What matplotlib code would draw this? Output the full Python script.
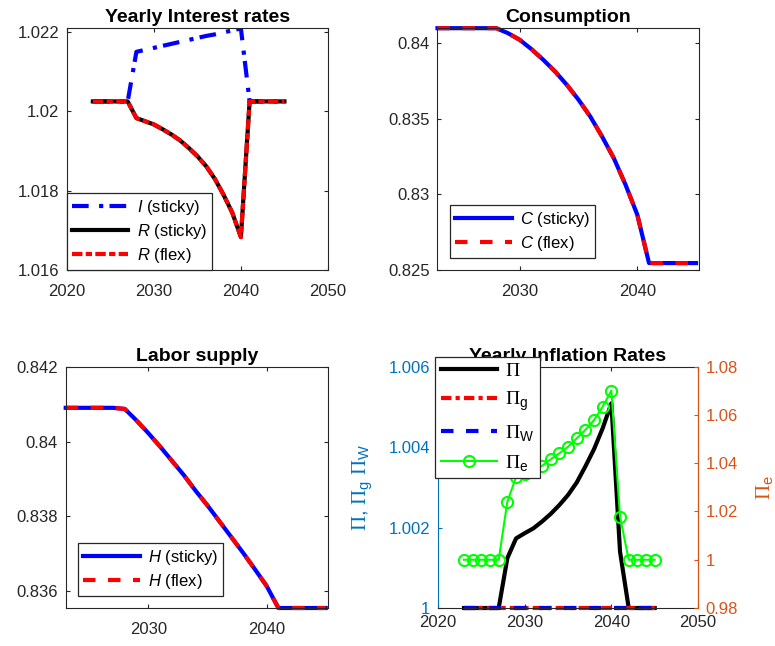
import matplotlib
matplotlib.use('Agg')
import matplotlib.pyplot as plt
from matplotlib.ticker import FuncFormatter

plt.rcParams['font.family'] = ['Liberation Sans', 'DejaVu Sans']
plt.rcParams['mathtext.fontset'] = 'custom'
plt.rcParams['mathtext.rm'] = 'Liberation Serif'
plt.rcParams['mathtext.sf'] = 'Liberation Sans'
plt.rcParams['mathtext.it'] = 'Liberation Sans:italic'

#  Simulated paths, one value per year
years = list(range(2023, 2046))

i_sticky = [1.02025, 1.02025, 1.02025, 1.02025, 1.02025,
            1.02150, 1.02155, 1.02160, 1.02165, 1.02170, 1.02175, 1.02180,
            1.02185, 1.02190, 1.02194, 1.02199, 1.02204, 1.02209,
            1.02025, 1.02025, 1.02025, 1.02025, 1.02025]
r_sticky = [1.02025, 1.02025, 1.02025, 1.02025, 1.02025,
            1.01983, 1.01975, 1.01967, 1.01955, 1.01942, 1.01927, 1.01908,
            1.01887, 1.01862, 1.01830, 1.01790, 1.01745, 1.01683,
            1.02025, 1.02025, 1.02025, 1.02025, 1.02025]
r_flex = list(r_sticky)

c_sticky = [0.84099, 0.84099, 0.84099, 0.84099, 0.84099, 0.84099,
            0.84066, 0.84022, 0.83960, 0.83890, 0.83813, 0.83725,
            0.83626, 0.83515, 0.83383, 0.83240, 0.83064, 0.82866,
            0.82546, 0.82546, 0.82546, 0.82546, 0.82546]
c_flex = list(c_sticky)

h_sticky = [0.84090, 0.84090, 0.84090, 0.84090, 0.84090, 0.84087,
            0.84056, 0.84022, 0.83986, 0.83948, 0.83910, 0.83868,
            0.83829, 0.83787, 0.83745, 0.83703, 0.83659, 0.83614,
            0.83555, 0.83555, 0.83555, 0.83555, 0.83555]
h_flex = list(h_sticky)

pi_p = [1.0, 1.0, 1.0, 1.0, 1.0,
        1.00124, 1.00173, 1.00186, 1.00198, 1.00215, 1.00234, 1.00256,
        1.00281, 1.00312, 1.00352, 1.00395, 1.00447, 1.00509,
        1.00140, 1.0, 1.0, 1.0, 1.0]
pi_g = [1.0] * len(years)
pi_w = [1.0] * len(years)
pi_e = [1.0, 1.0, 1.0, 1.0, 1.0,
        1.0241, 1.0342, 1.0354, 1.0372, 1.0389, 1.0416, 1.0441,
        1.0468, 1.0503, 1.0538, 1.0579, 1.0634, 1.0701,
        1.0178, 1.0, 1.0, 1.0, 1.0]

BLUE = '#0072BD'
ORANGE = '#D95319'
AXC = '#262626'
LW = 3

fmt = FuncFormatter(lambda v, p: f'{v:g}')


def style_axes(ax, right=True, xpad=10):
    ax.tick_params(direction='in', length=3, top=True, right=right,
                   labelsize=12, colors=AXC, width=0.8)
    ax.tick_params(axis='x', pad=xpad)
    ax.tick_params(axis='y', pad=5.5)
    for s in ax.spines.values():
        s.set_color(AXC)
        s.set_linewidth(0.8)
    ax.yaxis.set_major_formatter(fmt)


def add_legend(ax, pad):
    leg = ax.legend(loc='lower left', fontsize=12, fancybox=False,
                    edgecolor=AXC, framealpha=1, borderaxespad=pad,
                    handlelength=3.4, handletextpad=0.5, labelspacing=0.3,
                    borderpad=0.3)
    leg.get_frame().set_linewidth(0.9)
    return leg


fig = plt.figure(figsize=(7.75, 6.46), dpi=100)

#  Interest rates
ax1 = fig.add_axes([0.0861, 0.5820, 0.3371, 0.3746])
ax1.plot(years, i_sticky, color='blue', lw=LW, dashes=(4, 2.5, 1, 1.5), label='$I$ (sticky)')
ax1.plot(years, r_sticky, color='black', lw=LW, label='$R$ (sticky)')
ax1.plot(years, r_flex, color='red', lw=LW, dashes=(2.5, 0.8, 1.5, 0.8), label='$R$ (flex)')
ax1.set_xlim(2020, 2050)
ax1.set_ylim(1.016, 1.0221)
ax1.set_xticks([2020, 2030, 2040, 2050])
ax1.set_yticks([1.016, 1.018, 1.02, 1.022])
style_axes(ax1)
ax1.set_title('Yearly Interest rates', fontsize=14, fontweight='bold', pad=4)
add_legend(ax1, 0)

#  Consumption
ax2 = fig.add_axes([0.5645, 0.5820, 0.3374, 0.3746])
ax2.plot(years, c_sticky, color='blue', lw=LW, label='$C$ (sticky)', clip_on=False)
ax2.plot(years, c_flex, color='red', lw=LW, dashes=(3, 3), label='$C$ (flex)', clip_on=False)
ax2.set_xlim(2023, 2045.25)
ax2.set_ylim(0.825, 0.841)
ax2.set_xticks([2030, 2040])
ax2.set_yticks([0.825, 0.83, 0.835, 0.84])
style_axes(ax2)
ax2.set_title('Consumption', fontsize=14, fontweight='bold', pad=4)
add_legend(ax2, 0.75)

#  Labor supply
ax3 = fig.add_axes([0.0848, 0.0588, 0.3385, 0.3736])
ax3.plot(years, h_sticky, color='blue', lw=LW, label='$H$ (sticky)', clip_on=False)
ax3.plot(years, h_flex, color='red', lw=LW, dashes=(3, 3), label='$H$ (flex)', clip_on=False)
ax3.set_xlim(2023, 2045.2)
ax3.set_ylim(0.83555, 0.842)
ax3.set_xticks([2030, 2040])
ax3.set_yticks([0.836, 0.838, 0.84, 0.842])
style_axes(ax3)
ax3.set_title('Labor supply', fontsize=14, fontweight='bold', pad=4)
add_legend(ax3, 0.75)

#  Inflation, expected inflation on the right axis
ax4 = fig.add_axes([0.5652, 0.0588, 0.3355, 0.3736])
l1, = ax4.plot(years, pi_p, color='black', lw=LW, clip_on=False)
l2, = ax4.plot(years, pi_g, color='red', lw=LW, dashes=(2.5, 1, 1, 1), clip_on=False)
l3, = ax4.plot(years, pi_w, color='blue', lw=LW, dashes=(3, 3), clip_on=False)
ax4.set_xlim(2020, 2050)
ax4.set_ylim(1.0, 1.006)
ax4.set_xticks([2020, 2030, 2040, 2050])
ax4.set_yticks([1.0, 1.002, 1.004, 1.006])
style_axes(ax4, right=False, xpad=5)
ax4.tick_params(axis='y', colors=BLUE)
ax4.spines['left'].set_color(BLUE)
ax4.set_ylabel(r'$\Pi$, $\Pi_{\mathsf{g}}$ $\Pi_{\mathsf{W}}$', color=BLUE,
               fontsize=15, labelpad=10)

ax5 = ax4.twinx()
l4, = ax5.plot(years, pi_e, color='#00FF00', lw=1.5, marker='o', ms=8,
               mfc='none', mew=1.5, clip_on=False)
ax5.set_ylim(0.98, 1.08)
ax5.set_yticks([0.98, 1.0, 1.02, 1.04, 1.06, 1.08])
ax5.tick_params(direction='in', length=3, labelsize=12, colors=ORANGE,
                width=0.8, pad=5.5)
ax5.yaxis.set_major_formatter(fmt)
for s in ax5.spines.values():
    s.set_visible(False)
ax5.spines['right'].set_visible(True)
ax5.spines['right'].set_color(ORANGE)
ax5.spines['right'].set_linewidth(0.8)
ax5.set_ylabel(r'$\Pi_{\mathsf{e}}$', color=ORANGE, fontsize=15, labelpad=12)
ax4.set_title('Yearly Inflation Rates', fontsize=14, fontweight='bold', pad=4)

leg = ax5.legend([l1, l2, l3, l4],
                 [r'$\Pi$', r'$\Pi_{\mathsf{g}}$', r'$\Pi_{\mathsf{W}}$', r'$\Pi_{\mathsf{e}}$'],
                 loc='upper left', bbox_to_anchor=(0.5613, 0.4478),
                 bbox_transform=fig.transFigure, borderaxespad=0,
                 fontsize=14, fancybox=False, edgecolor=AXC, framealpha=1,
                 handlelength=2.9, handletextpad=0.4, labelspacing=0.5,
                 borderpad=0.3)
leg.get_frame().set_linewidth(0.9)

plt.savefig('out.png', dpi=100)
